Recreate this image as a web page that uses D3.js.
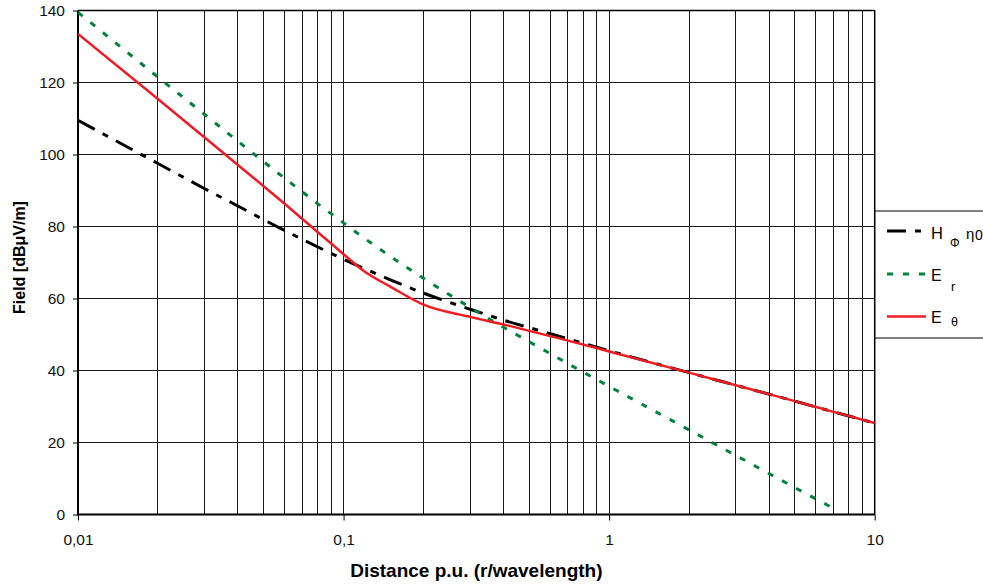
<!DOCTYPE html>
<html>
<head>
<meta charset="utf-8">
<script src="https://cdn.jsdelivr.net/npm/d3@7"></script>
<style>
  body { margin: 0; background: #fff; }
  svg { display: block; font-family: "Liberation Sans", Arial, sans-serif; }
</style>
</head>
<body>
<div id="chart"></div>
<script>
// valeurs
const distance = [0.01, 0.02, 0.03, 0.04, 0.05, 0.06, 0.07, 0.08, 0.09, 0.1, 0.12, 0.15, 0.2, 0.3, 0.4, 0.5, 0.7, 1, 2, 3, 5, 7, 10];
const hPhiEta = [109.5, 97.5, 90.5, 85.7, 81.9, 78.9, 76.4, 74.3, 72.5, 70.9, 68.3, 65.2, 61.5, 57.0, 54.0, 51.9, 48.8, 45.5, 39.4, 35.9, 31.5, 28.5, 25.4];
const eR = [139.5, 121.5, 111.1, 103.7, 98.0, 93.4, 89.6, 86.3, 83.5, 81.0, 76.7, 71.7, 65.6, 57.5, 52.0, 48.0, 41.9, 35.6, 23.5, 16.4, 7.5, 1.7, null];
const eTheta = [133.5, 115.4, 104.7, 97.1, 91.2, 86.3, 82.1, 78.4, 75.2, 72.3, 67.5, 63.3, 58.3, 54.9, 52.8, 51.0, 48.3, 45.3, 39.4, 35.9, 31.5, 28.5, 25.4];

const xTicks = [0.01, 0.1, 1, 10];
const xTickLabels = ["0,01", "0,1", "1", "10"];
const yTicks = [0, 20, 40, 60, 80, 100, 120, 140];

const width = 983, height = 587;
const pLeft = 78, pRight = 874.7, pTop = 10.5, pBottom = 514.5;

const svg = d3.select("#chart").append("svg")
    .attr("width", width)
    .attr("height", height);

const x = d3.scaleLog().domain([0.01, 10]).range([pLeft, pRight]);
const y = d3.scaleLinear().domain([0, 140]).range([pBottom, pTop]);

// grille verticale (1..9 par décade)
const minor = [];
[0.01, 0.1, 1].forEach(d => { for (let k = 1; k <= 9; k++) minor.push(d * k); });
minor.push(10);

const grid = svg.append("g")
    .attr("stroke", "#1a1a1a")
    .attr("stroke-width", 1)
    .attr("shape-rendering", "crispEdges");

grid.selectAll("line.v")
    .data(minor)
    .join("line")
    .attr("class", "v")
    .attr("x1", d => x(d)).attr("x2", d => x(d))
    .attr("y1", pTop).attr("y2", pBottom);

grid.selectAll("line.h")
    .data(yTicks)
    .join("line")
    .attr("class", "h")
    .attr("x1", pLeft).attr("x2", pRight)
    .attr("y1", d => y(d)).attr("y2", d => y(d));

// axes
const yAxis = svg.append("g")
    .attr("transform", `translate(${pLeft},0)`)
    .call(d3.axisLeft(y).tickValues(yTicks).tickSize(5).tickPadding(8));
yAxis.select(".domain").remove();
yAxis.selectAll("line").attr("stroke", "#000").attr("stroke-width", 1);
yAxis.selectAll("text").style("font-size", "15.5px").attr("fill", "#111")
    .style("font-family", "'Liberation Sans', Arial, sans-serif");

const xAxis = svg.append("g")
    .attr("transform", `translate(0,${pBottom})`)
    .call(d3.axisBottom(x).tickValues(xTicks).tickFormat((d, i) => xTickLabels[i]).tickSize(6).tickPadding(13));
xAxis.select(".domain").remove();
xAxis.selectAll("line").attr("stroke", "#000").attr("stroke-width", 1);
xAxis.selectAll("text").style("font-size", "15.5px").attr("fill", "#111")
    .style("font-family", "'Liberation Sans', Arial, sans-serif");

// cadre
svg.append("line").attr("x1", pLeft).attr("x2", pLeft).attr("y1", pTop).attr("y2", pBottom + 1)
    .attr("stroke", "#000").attr("stroke-width", 2);
svg.append("line").attr("x1", pLeft - 1).attr("x2", pRight).attr("y1", pBottom).attr("y2", pBottom)
    .attr("stroke", "#000").attr("stroke-width", 2);
svg.append("line").attr("x1", pLeft).attr("x2", pRight).attr("y1", pTop).attr("y2", pTop)
    .attr("stroke", "#000").attr("stroke-width", 1.5);
svg.append("line").attr("x1", pRight).attr("x2", pRight).attr("y1", pTop).attr("y2", pBottom)
    .attr("stroke", "#000").attr("stroke-width", 1.5);

// courbes
svg.append("clipPath").attr("id", "plot-clip")
    .append("rect").attr("x", pLeft).attr("y", pTop - 2).attr("width", pRight - pLeft).attr("height", pBottom - pTop + 2);

const series = [
    { values: hPhiEta, color: "#000", dash: "19,9,6,9", width: 3 },
    { values: eR, color: "#00823f", dash: "6,10", width: 3 },
    { values: eTheta, color: "#ee1d23", dash: null, width: 2.5 }
];

const line = d3.line()
    .defined(d => d[1] != null)
    .x(d => x(d[0]))
    .y(d => y(d[1]))
    .curve(d3.curveMonotoneX);

const plot = svg.append("g").attr("clip-path", "url(#plot-clip)");
series.forEach(s => {
    plot.append("path")
        .datum(distance.map((d, i) => [d, s.values[i]]))
        .attr("fill", "none")
        .attr("stroke", s.color)
        .attr("stroke-width", s.width)
        .attr("stroke-dasharray", s.dash)
        .attr("d", line);
});

// titres
svg.append("text")
    .attr("x", (pLeft + pRight) / 2).attr("y", 577)
    .attr("text-anchor", "middle")
    .style("font-size", "19px").style("font-weight", "bold")
    .text("Distance p.u. (r/wavelength)");

svg.append("text")
    .attr("transform", `translate(25,${(pTop + pBottom) / 2 - 5}) rotate(-90)`)
    .attr("text-anchor", "middle")
    .style("font-size", "16px").style("font-weight", "bold")
    .text("Field [dBμV/m]");

// légende
const legend = svg.append("g");
legend.append("rect")
    .attr("x", 875).attr("y", 211).attr("width", 120).attr("height", 127)
    .attr("fill", "#fff").attr("stroke", "#000").attr("stroke-width", 1);

const legRows = [
    { y: 231, idx: 0 },
    { y: 274, idx: 1 },
    { y: 316.5, idx: 2 }
];
legRows.forEach(r => {
    const s = series[r.idx];
    legend.append("line")
        .attr("x1", 887).attr("x2", 926)
        .attr("y1", r.y).attr("y2", r.y)
        .attr("stroke", s.color)
        .attr("stroke-width", s.width)
        .attr("stroke-dasharray", s.dash);
});

function legText(tx, ty, size, str) {
    legend.append("text").attr("x", tx).attr("y", ty)
        .style("font-size", size + "px").attr("fill", "#000").text(str);
}
legText(931, 238.5, 16.5, "H");
legText(950, 247, 12, "Φ");
legText(966, 239, 15, "η");
legText(975, 240, 14, "0");

legText(931, 281, 16, "E");
legText(951, 291, 13, "r");

legText(931, 322.5, 16, "E");
legText(951, 326, 12.5, "θ");
</script>
</body>
</html>
